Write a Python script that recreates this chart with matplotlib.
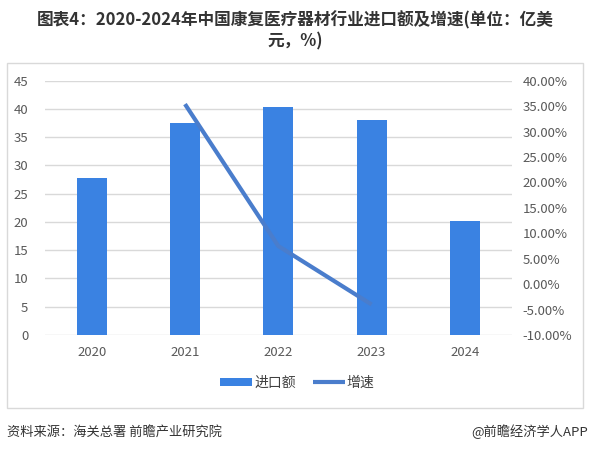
import numpy as np
import matplotlib.pyplot as plt
from matplotlib.patches import Rectangle
from matplotlib.ticker import FuncFormatter

plt.rcParams['font.family'] = ['Noto Sans CJK SC', 'DejaVu Sans']

# 数据
years = ['2020', '2021', '2022', '2023', '2024']
import_value = [27.7, 37.5, 40.3, 38.0, 20.1]          # 亿美元
growth_years = ['2021', '2022', '2023']
growth_rate = [0.354, 0.075, -0.040]                    # 增速

bar_color = '#3A82E2'
line_color = '#4A7DCC'
tick_color = '#595959'
grid_color = '#D9D9D9'

fig = plt.figure(figsize=(5.9, 4.51), dpi=100)
ax = fig.add_axes([0.0763, 0.2572, 0.7907, 0.5638])
ax2 = ax.twinx()

x = np.arange(len(years))
ax.bar(x, import_value, width=0.32, color=bar_color, zorder=2, label='进口额')
gx = [years.index(y) for y in growth_years]
ax2.plot(gx, growth_rate, color=line_color, linewidth=3, solid_capstyle='butt',
         zorder=3, label='增速')

ax.set_xlim(-0.5, len(years) - 0.5)
ax.set_ylim(0, 45)
ax.set_yticks(np.arange(0, 46, 5))
ax2.set_ylim(-0.10, 0.40)
ax2.set_yticks(np.arange(-0.10, 0.401, 0.05))
ax2.yaxis.set_major_formatter(FuncFormatter(lambda v, p: f'{v * 100:.2f}%'))

ax.set_xticks(x)
ax.set_xticklabels(years)
ax.grid(axis='y', color=grid_color, linewidth=1, zorder=0)
ax.set_axisbelow(True)

for a in (ax, ax2):
    for s in a.spines.values():
        s.set_visible(False)
    a.tick_params(length=0, colors=tick_color, labelsize=9.5)
ax.tick_params(axis='x', pad=8)
ax.tick_params(axis='y', pad=12)
ax2.tick_params(axis='y', pad=8)

# 把折线画在柱子上面
ax.set_zorder(1)
ax2.set_zorder(2)
ax2.patch.set_visible(False)

# 图例
h1, l1 = ax.get_legend_handles_labels()
h2, l2 = ax2.get_legend_handles_labels()
fig.legend(h1 + h2, l1 + l2, loc='center', bbox_to_anchor=(0.504, 0.151), ncol=2,
           frameon=False, fontsize=10, handlelength=2.3, handleheight=0.5,
           handletextpad=0.15, columnspacing=1.2, labelcolor='#404040')

# 外框
fig.patches.append(Rectangle((7 / 590, 1 - 408 / 451), 576 / 590, 345 / 451,
                             transform=fig.transFigure, fill=False,
                             edgecolor=grid_color, linewidth=1))

# 标题和来源
fig.text(0.5, 1 - 20 / 451, '图表4：2020-2024年中国康复医疗器材行业进口额及增速(单位：亿美',
         ha='center', va='center', fontsize=12, fontweight='bold', color='#333333')
fig.text(0.5, 1 - 41 / 451, '元，%)', ha='center', va='center', fontsize=12,
         fontweight='bold', color='#333333')
fig.text(7 / 590, 1 - 432 / 451, '资料来源：海关总署 前瞻产业研究院', ha='left',
         va='center', fontsize=9.5, color='#333333')
fig.text(588 / 590, 1 - 432 / 451, '@前瞻经济学人APP', ha='right', va='center',
         fontsize=9.5, color='#333333')

fig.savefig('out.png', dpi=100)
